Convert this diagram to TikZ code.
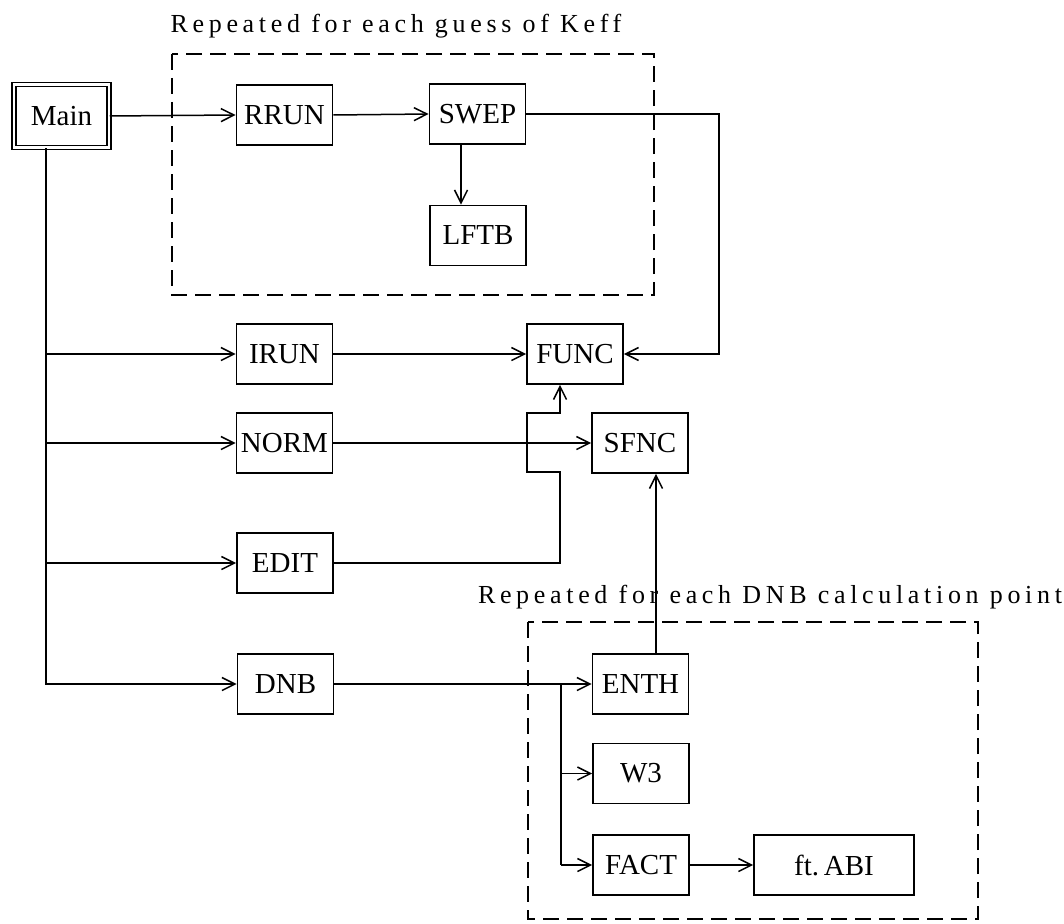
\documentclass[tikz,border=0pt]{standalone}
\usepackage{fontspec}
\setmainfont{Liberation Serif}
\newfontfamily\titlefont[LetterSpace=18]{Liberation Serif}
\usetikzlibrary{arrows.meta,calc}
\begin{document}
\begin{tikzpicture}[x=1pt,y=-1pt,
  box/.style={draw,line width=1.8pt,minimum width=96pt,minimum height=60pt,inner sep=0pt,font=\fontsize{29}{31}\selectfont},
  conn/.style={line width=1.5pt},
  arr/.style={conn,-{Straight Barb[length=13pt,width=13pt]}},
  loopbox/.style={draw,line width=1.5pt,dash pattern=on 16pt off 8pt},
  title/.style={font=\titlefont\fontsize{26}{28}\selectfont,inner sep=0pt}]
\useasboundingbox (0,0) rectangle (1064,923);

% dashed loop regions
\draw[loopbox] (172,54) rectangle (654,295);
\draw[loopbox] (528,622) rectangle (978,919);
\node[title] (t1) at (396,26) {Repeated for each guess of Keff};
\node[title] (t2) at (770,597) {Repeated for each DNB calculation point};

% boxes
\node[box,double,double distance=2.5pt,line width=1.5pt,minimum width=95pt,minimum height=63pt] (main) at (61.5,116) {Main};
\node[box] (rrun) at (284.5,115) {RRUN};
\node[box] (swep) at (477.5,114) {SWEP};
\node[box] (lftb) at (478,235.5) {LFTB};
\node[box] (irun) at (284.5,354) {IRUN};
\node[box] (norm) at (284.5,443) {NORM};
\node[box] (edit) at (285,563) {EDIT};
\node[box] (dnb)  at (285.5,684) {DNB};
\node[box] (func) at (575,354) {FUNC};
\node[box] (sfnc) at (640,443) {SFNC};
\node[box] (enth) at (640.5,684) {ENTH};
\node[box] (w3)   at (641,773.5) {W3};
\node[box] (fact) at (641,865) {FACT};
\node[box,minimum width=160pt] (ftabi) at (834,865) {ft.\,ABI};

% helper coordinates
\coordinate (trunk) at ($(main.south)+(-15.5,0)$);
\coordinate (r1) at (719,114);
\coordinate (e1) at (560,472);
\coordinate (e2) at (527,472);
\coordinate (e3) at (527,413);
\coordinate (e4) at (560,413);
\coordinate (b1) at (561,684);

% connectors
\draw[arr] (main.east) -- (rrun.west);
\draw[arr] (rrun.east) -- (swep.west);
\draw[arr] ($(swep.south)+(-16.5,0)$) -- ($(lftb.north)+(-17,0)$);
\draw[arr] (swep.east) -- (r1) |- (func.east);
\draw[arr] (trunk) |- (dnb.west);
\draw[arr] (trunk |- irun.west) -- (irun.west);
\draw[arr] (trunk |- norm.west) -- (norm.west);
\draw[arr] (trunk |- edit.west) -- (edit.west);
\draw[arr] (irun.east) -- (func.west);
\draw[arr] (norm.east) -- (sfnc.west);
\draw[arr] (edit.east) -| (e1) -- (e2) -- (e3) -- (e4) -- (e4 |- func.south);
\draw[arr] (dnb.east) -- (enth.west);
\draw[conn] (b1) -- (b1 |- fact.west);
\draw[arr] (b1 |- w3.west) -- (w3.west);
\draw[arr] (b1 |- fact.west) -- (fact.west);
\draw[arr] (fact.east) -- (ftabi.west);
\draw[conn] ($(enth.north)+(15.5,0)$) -- ($(enth.north)+(15.5,0)$ |- 0,616);
\draw[arr] ($(enth.north)+(15.5,0)$ |- 0,573) -- ($(sfnc.south)+(16,0)$);
\end{tikzpicture}
\end{document}
